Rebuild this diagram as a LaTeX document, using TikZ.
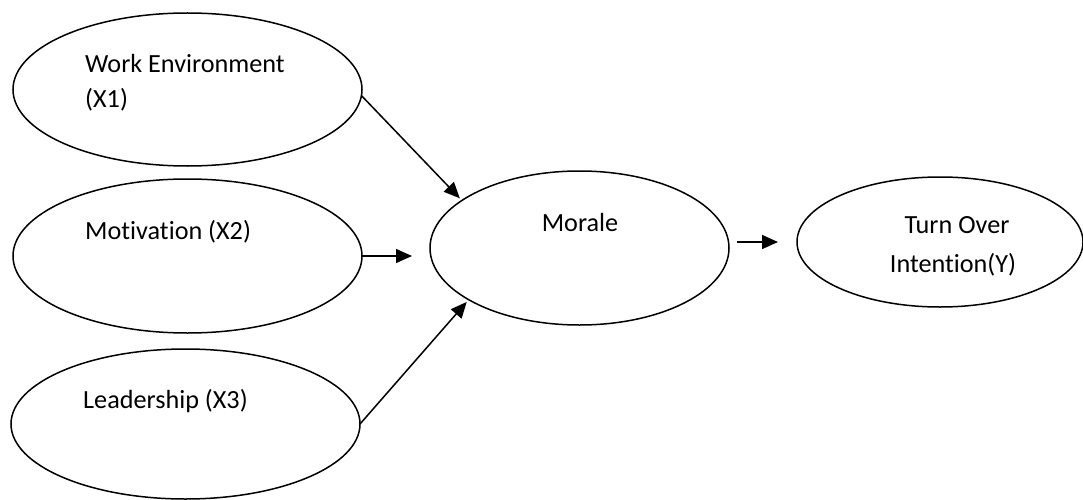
\documentclass[tikz,border=0pt]{standalone}
\usepackage{fontspec}
\setmainfont{Carlito}[Ligatures=NoCommon]
\usetikzlibrary{arrows.meta,shapes.geometric}
\begin{document}
\begin{tikzpicture}[x=1pt,y=-1pt,
  var/.style={draw, ellipse, line width=1.5pt, inner sep=0pt, outer sep=0pt},
  lbl/.style={font=\fontsize{26.2}{35}\selectfont, inner sep=0pt, anchor=base west},
  arr/.style={line width=1.5pt, -{Triangle[length=16pt,width=14pt]}}]
\useasboundingbox (0,0) rectangle (1083,500);

% latent variables
\node[var, minimum width=349pt, minimum height=153pt] (x1) at (187.5,89.5) {};
\node[var, minimum width=349pt, minimum height=154pt] (x2) at (187.5,256) {};
\node[var, minimum width=349pt, minimum height=150pt] (x3) at (185.5,424) {};
\node[var, minimum width=299pt, minimum height=154pt] (mor) at (579.5,248) {};
\node[var, minimum width=286pt, minimum height=130pt] (to) at (940,242) {};

% labels
\node[lbl] (t1a) at (85,73) {Work Environment};
\node[lbl] (t1b) at (85,108) {(X1)};
\node[lbl] (t2) at (85,239) {Motivation (X2)};
\node[lbl] (t3) at (83,408) {Leadership (X3)};
\node[lbl, anchor=base] (tm) at (580,231) {Morale};
\node[lbl, anchor=base] (ty1) at (957,233) {Turn Over};
\node[lbl, anchor=base] (ty2) at (953,272) {Intention(Y)};

% paths
\draw[arr, shorten >=3pt] (x1.-2.8) -- (mor.158.4);
\draw[arr, shorten >=18pt] (x2.east) -- (x2.east -| mor.west);
\draw[arr, shorten >=3pt] (x3.east) -- (mor.205.8);
\draw[arr, shorten <=8pt, shorten >=19pt] (mor.east |- to.west) -- (to.west);
\end{tikzpicture}
\end{document}
